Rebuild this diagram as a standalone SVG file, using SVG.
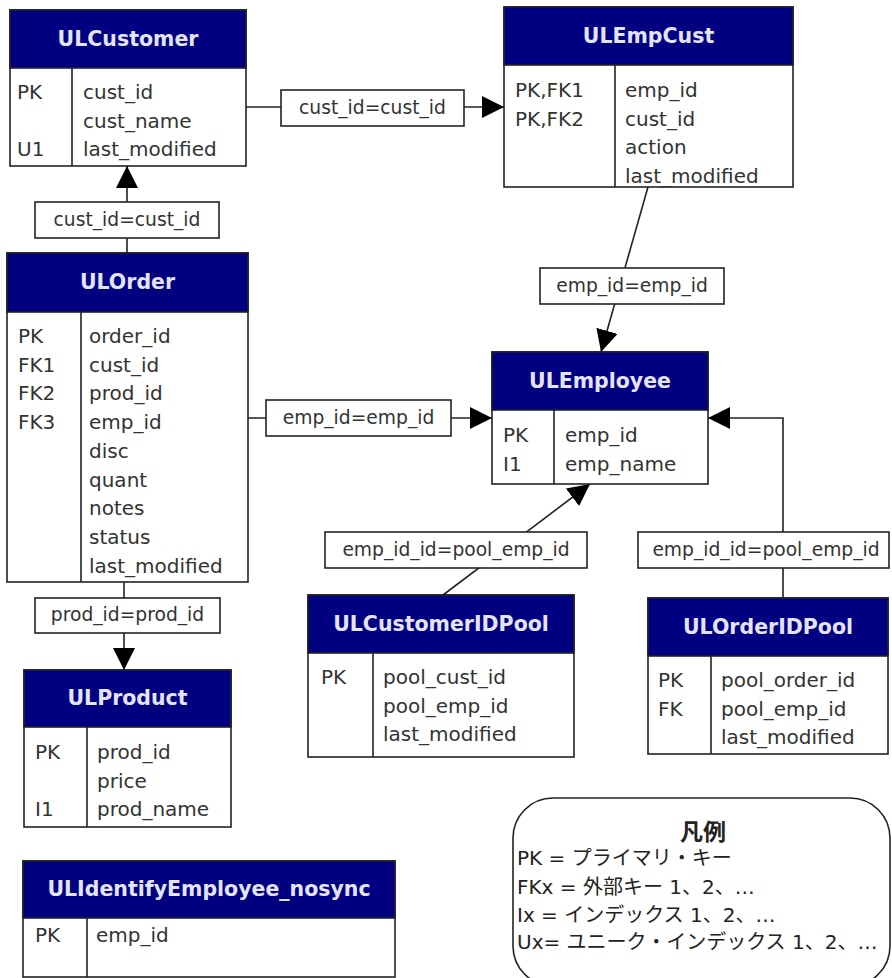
<svg xmlns="http://www.w3.org/2000/svg" width="892" height="978" viewBox="0 0 892 978">
<defs>
<marker id="arr" markerUnits="userSpaceOnUse" markerWidth="22" markerHeight="22" viewBox="0 0 20 20" refX="20" refY="10" orient="auto">
<path d="M0,0 L20,10 L0,20 Z" fill="#000"/>
</marker>
</defs>
<style>
.box{fill:#fff;stroke:#222;stroke-width:1.6}
.hdr{fill:#000080;stroke:#222;stroke-width:1.6}
.div{stroke:#222;stroke-width:1.6}
.title{font-family:"DejaVu Sans",sans-serif;font-weight:bold;font-size:20.5px;fill:#e4e4f8;text-anchor:middle}
.f{font-family:"DejaVu Sans",sans-serif;font-size:20px;fill:#333}
.lbl{fill:#fff;stroke:#222;stroke-width:1.6}
.lt{font-family:"DejaVu Sans",sans-serif;font-size:18.7px;fill:#333;text-anchor:middle}
.con{fill:none;stroke:#222;stroke-width:1.6}
.leg{font-family:"DejaVu Sans","Noto Sans CJK JP",sans-serif;font-size:20px;fill:#222}
.legt{font-family:"Noto Sans CJK JP",sans-serif;font-size:23px;font-weight:bold;fill:#222;text-anchor:middle}
</style>
<rect width="892" height="978" fill="#fff"/>

<g id="connectors">
<path class="con" d="M246,107 H504" marker-end="url(#arr)"/>
<path class="con" d="M127,253 V166" marker-end="url(#arr)"/>
<path class="con" d="M648,187 L601,352" marker-end="url(#arr)"/>
<path class="con" d="M248,418 H492" marker-end="url(#arr)"/>
<path class="con" d="M124,582 V670" marker-end="url(#arr)"/>
<path class="con" d="M443,595 L590,484" marker-end="url(#arr)"/>
<path class="con" d="M783,598 V418 H708" marker-end="url(#arr)"/>
<rect class="lbl" x="281" y="90" width="183" height="36"/>
<text class="lt" x="372.5" y="114">cust_id=cust_id</text>
<rect class="lbl" x="35" y="202" width="184" height="36"/>
<text class="lt" x="127" y="226">cust_id=cust_id</text>
<rect class="lbl" x="540" y="268" width="184" height="36"/>
<text class="lt" x="632" y="292">emp_id=emp_id</text>
<rect class="lbl" x="266" y="400" width="185" height="36"/>
<text class="lt" x="358.5" y="424">emp_id=emp_id</text>
<rect class="lbl" x="35" y="598" width="185" height="35"/>
<text class="lt" x="127.5" y="621">prod_id=prod_id</text>
<rect class="lbl" x="325" y="532" width="262" height="36"/>
<text class="lt" x="456" y="556">emp_id_id=pool_emp_id</text>
<rect class="lbl" x="638" y="532" width="251" height="36"/>
<text class="lt" x="766" y="556">emp_id_id=pool_emp_id</text>
</g>

<g id="ULCustomer">
<rect class="box" x="10" y="10" width="236" height="156"/>
<rect class="hdr" x="10" y="10" width="236" height="58"/>
<line class="div" x1="72" y1="68" x2="72" y2="166"/>
<text class="title" x="128" y="46">ULCustomer</text>
<text class="f" x="17" y="99">PK</text>
<text class="f" x="17" y="156.4">U1</text>
<text class="f" x="83" y="99">cust_id</text>
<text class="f" x="83" y="127.7">cust_name</text>
<text class="f" x="83" y="156.4">last_modified</text>
</g>

<g id="ULEmpCust">
<rect class="box" x="504" y="7" width="289" height="180"/>
<rect class="hdr" x="504" y="7" width="289" height="58"/>
<line class="div" x1="615" y1="65" x2="615" y2="187"/>
<text class="title" x="648.5" y="43">ULEmpCust</text>
<text class="f" x="515" y="97">PK,FK1</text>
<text class="f" x="515" y="125.7">PK,FK2</text>
<text class="f" x="625" y="97">emp_id</text>
<text class="f" x="625" y="125.7">cust_id</text>
<text class="f" x="625" y="154.4">action</text>
<text class="f" x="625" y="183.1">last_modified</text>
</g>

<g id="ULOrder">
<rect class="box" x="7" y="253" width="241" height="329"/>
<rect class="hdr" x="7" y="253" width="241" height="59"/>
<line class="div" x1="81" y1="312" x2="81" y2="582"/>
<text class="title" x="127.5" y="289">ULOrder</text>
<text class="f" x="18" y="343">PK</text>
<text class="f" x="18" y="371.7">FK1</text>
<text class="f" x="18" y="400.4">FK2</text>
<text class="f" x="18" y="429.1">FK3</text>
<text class="f" x="89" y="343">order_id</text>
<text class="f" x="89" y="371.7">cust_id</text>
<text class="f" x="89" y="400.4">prod_id</text>
<text class="f" x="89" y="429.1">emp_id</text>
<text class="f" x="89" y="457.8">disc</text>
<text class="f" x="89" y="486.5">quant</text>
<text class="f" x="89" y="515.2">notes</text>
<text class="f" x="89" y="543.9">status</text>
<text class="f" x="89" y="572.6">last_modified</text>
</g>

<g id="ULEmployee">
<rect class="box" x="492" y="352" width="216" height="132"/>
<rect class="hdr" x="492" y="352" width="216" height="58"/>
<line class="div" x1="554" y1="410" x2="554" y2="484"/>
<text class="title" x="600" y="388">ULEmployee</text>
<text class="f" x="503" y="442">PK</text>
<text class="f" x="503" y="470.7">I1</text>
<text class="f" x="565" y="442">emp_id</text>
<text class="f" x="565" y="470.7">emp_name</text>
</g>

<g id="ULProduct">
<rect class="box" x="24" y="670" width="207" height="157"/>
<rect class="hdr" x="24" y="670" width="207" height="57"/>
<line class="div" x1="87" y1="727" x2="87" y2="827"/>
<text class="title" x="127.5" y="705">ULProduct</text>
<text class="f" x="35" y="759">PK</text>
<text class="f" x="35" y="816.4">I1</text>
<text class="f" x="97" y="759">prod_id</text>
<text class="f" x="97" y="787.7">price</text>
<text class="f" x="97" y="816.4">prod_name</text>
</g>

<g id="ULCustomerIDPool">
<rect class="box" x="308" y="595" width="266" height="162"/>
<rect class="hdr" x="308" y="595" width="266" height="58"/>
<line class="div" x1="373" y1="653" x2="373" y2="757"/>
<text class="title" x="441" y="631">ULCustomerIDPool</text>
<text class="f" x="321" y="684">PK</text>
<text class="f" x="383" y="684">pool_cust_id</text>
<text class="f" x="383" y="712.7">pool_emp_id</text>
<text class="f" x="383" y="741.4">last_modified</text>
</g>

<g id="ULOrderIDPool">
<rect class="box" x="648" y="598" width="240" height="156"/>
<rect class="hdr" x="648" y="598" width="240" height="58"/>
<line class="div" x1="711" y1="656" x2="711" y2="754"/>
<text class="title" x="768" y="634">ULOrderIDPool</text>
<text class="f" x="658" y="687">PK</text>
<text class="f" x="658" y="715.7">FK</text>
<text class="f" x="721" y="687">pool_order_id</text>
<text class="f" x="721" y="715.7">pool_emp_id</text>
<text class="f" x="721" y="744.4">last_modified</text>
</g>

<g id="ULIdentifyEmployee_nosync">
<rect class="box" x="23" y="861" width="372" height="116"/>
<rect class="hdr" x="23" y="861" width="372" height="57"/>
<line class="div" x1="87" y1="918" x2="87" y2="977"/>
<text class="title" x="209" y="896">ULIdentifyEmployee_nosync</text>
<text class="f" x="35" y="942">PK</text>
<text class="f" x="96" y="942">emp_id</text>
</g>

<g id="legend">
<rect x="513" y="798" width="377" height="188" rx="40" ry="40" fill="#fff" stroke="#222" stroke-width="1.6"/>
<text class="legt" x="703" y="840">凡例</text>
<text class="leg" x="517" y="865">PK = プライマリ・キー</text>
<text class="leg" x="517" y="894">FKx = 外部キー 1、2、…</text>
<text class="leg" x="517" y="922">Ix = インデックス 1、2、…</text>
<text class="leg" x="517" y="949">Ux= ユニーク・インデックス 1、2、…</text>
</g>
</svg>
